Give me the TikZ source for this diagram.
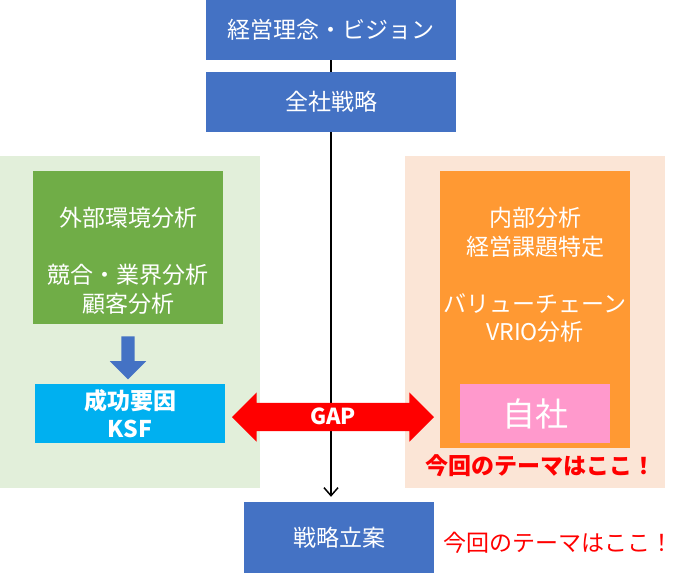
\documentclass[tikz,border=0pt]{standalone}
\usepackage{fontspec}
\setmainfont{Noto Sans CJK JP}
\usepackage{tikz}
\usetikzlibrary{shapes.arrows,arrows.meta,positioning}
\usepackage{xcolor}
\definecolor{bizblue}{HTML}{4472C4}
\definecolor{extgreen}{HTML}{70AD47}
\definecolor{lightgreen}{HTML}{E2EFDA}
\definecolor{ksfcyan}{HTML}{00B0F0}
\definecolor{peach}{HTML}{FBE5D6}
\definecolor{intorange}{HTML}{FF9933}
\definecolor{selfpink}{HTML}{FF99CC}
\definecolor{gapred}{HTML}{FF0000}

\begin{document}
\begin{tikzpicture}[x=1pt, y=-1pt, >=Stealth,
  every node/.style={inner sep=0pt, align=center},
  bluebox/.style={rectangle, fill=bizblue, text=white, minimum width=250, minimum height=60, font=\fontsize{23}{28}\selectfont},
  area/.style={rectangle, minimum width=260, minimum height=332},
  inbox/.style={rectangle, minimum width=190},
  wtext/.style={text=white, font=\fontsize{23}{28.5}\selectfont},
  theme/.style={text=gapred, font=\fontsize{23}{28}\selectfont}]
  \useasboundingbox (0,0) rectangle (695,573);

  % background areas
  \node[area, fill=lightgreen] (extarea) at (130,322) {};
  \node[area, fill=peach] (intarea) at (535,322) {};

  % strategy flow
  \node[bluebox] (vision) at (331,30) {経営理念・ビジョン};
  \node[bluebox] (corp) at (331,102) {全社戦略};
  \node[bluebox, minimum width=190, minimum height=71] (plan) at (339,537.5) {戦略立案};
  \draw[line width=1.5pt] (vision) -- (corp);
  \draw[line width=1.5pt, -{Straight Barb[length=8pt, width=14pt]}, shorten >=5pt] (corp.south) -- (corp.south |- plan.north);

  % external analysis
  \node[inbox, fill=extgreen, minimum height=153] (extbox) at (128,247.5) {};
  \node[wtext] (exttext) at (128,261) {外部環境分析\\[28.5pt]競合・業界分析\\顧客分析};
  \node[single arrow, shape border rotate=270, fill=bizblue, minimum height=43, minimum width=36,
        inner sep=6.5pt, single arrow head extend=11.5pt, single arrow head indent=0pt] (downarrow) at (128,354.5) {};
  \node[inbox, fill=ksfcyan, minimum height=59, text=white, font=\bfseries\fontsize{23}{28}\selectfont] (ksf) at (130,413.5) {成功要因\\KSF};

  % internal analysis
  \node[inbox, fill=intorange, minimum height=277] (intbox) at (535,309.5) {};
  \node[wtext] (inttext) at (535,275) {内部分析\\経営課題特定\\[28.5pt]バリューチェーン\\VRIO分析};
  \node[rectangle, fill=selfpink, minimum width=150, minimum height=59, text=white, font=\fontsize{33}{36}\selectfont] (self) at (535,413.5) {自社};
  \node[theme, font=\bfseries\fontsize{23}{28}\selectfont] (theme1) at (540,466) {今回のテーマはここ！};

  % gap
  \node[double arrow, fill=gapred, minimum height=202, minimum width=48, inner xsep=4pt, inner ysep=7pt,
        double arrow head extend=10.5pt, text=white, font=\bfseries\fontsize{22}{24}\selectfont,
        text height=14pt, text depth=0pt] (gap) at (333,417) {GAP};

  \node[theme] (theme2) at (558,543) {今回のテーマはここ！};
\end{tikzpicture}
\end{document}
